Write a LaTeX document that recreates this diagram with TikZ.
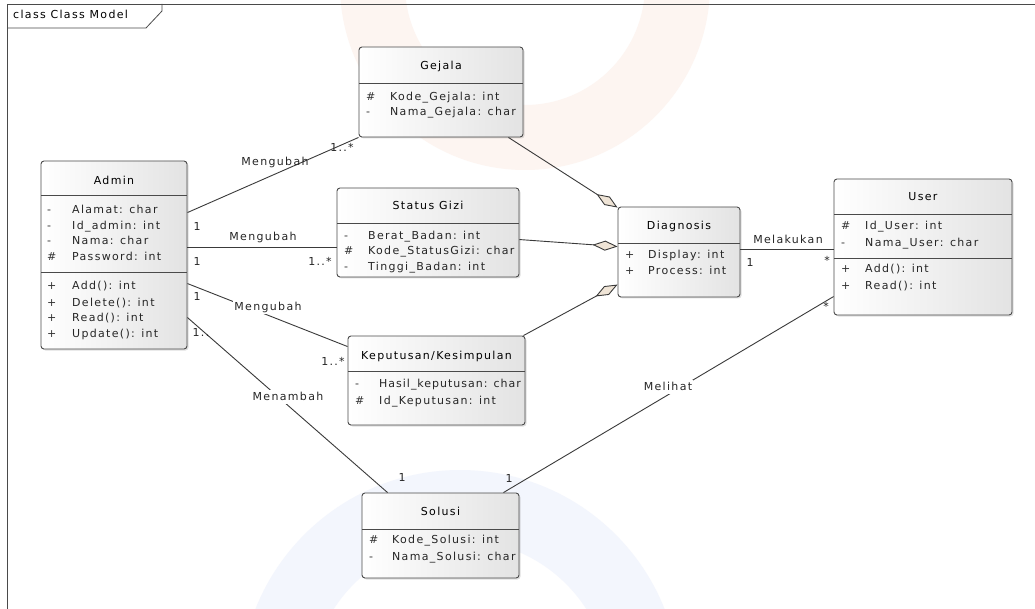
\documentclass[tikz,border=0pt]{standalone}
\usepackage{fontspec}
\newfontfamily\umlfont[LetterSpace=12]{DejaVu Sans}
\usetikzlibrary{arrows.meta,shadows}

\definecolor{lineclr}{HTML}{3A3A3A}
\definecolor{boxedge}{HTML}{4A4A4A}
\definecolor{diamfill}{HTML}{EFE4D6}
\definecolor{wmblue}{HTML}{F3F6FD}
\definecolor{wmpeach}{HTML}{FDF5F1}

\tikzset{
  classbox/.style={draw=boxedge, line width=0.9pt, rounded corners=3pt,
    left color=white, right color=black!11, inner sep=0pt,
    drop shadow={shadow xshift=1.5pt, shadow yshift=-1.5pt, opacity=0.25}},
  sepline/.style={draw=boxedge, line width=0.9pt},
  umltext/.style={font=\umlfont\fontsize{11}{13}\selectfont, inner sep=0pt,
    text height=8pt, text depth=2pt},
  ctitle/.style={umltext, text=black},
  cvis/.style={umltext, anchor=west, text=black!80},
  cattr/.style={umltext, anchor=west, text=black!85},
  assoc/.style={draw=lineclr, line width=0.9pt},
  aggr/.style={assoc, -{Diamond[length=25pt, width=10pt, fill=diamfill, line width=0.9pt]}},
  lbl/.style={umltext, text=black!85},
  cutlbl/.style={lbl, fill=white, inner xsep=1pt, inner ysep=2pt},
}

% one compartment row: visibility mark and member text
\newcommand\clsrow[6]{%
  \node[cvis] (#1v) at (#2,#4) {#5};
  \node[cattr] (#1) at (#3,#4) {#6};}

\begin{document}
\begin{tikzpicture}[x=1pt, y=-1pt]
\useasboundingbox (0,0) rectangle (1035,609);
\fill[white] (0,0) rectangle (1035,609);

% faint background emblem rings
\fill[wmpeach, even odd rule] (525,-15) circle (185) (525,-15) circle (120);
\fill[wmblue, even odd rule] (460,690) circle (220) (460,690) circle (150);

% diagram frame
\draw[boxedge, line width=0.8pt] (7,609) -- (7,4) -- (1035,4);
\draw[boxedge, line width=0.8pt] (7,28) -- (146,28) -- (162,11) -- (162,4);
\node[umltext, anchor=west, text=black] (frametitle) at (13,16) {class Class Model};

% ---------- classes ----------
% Admin
\node[classbox, minimum width=146pt, minimum height=188pt] (admin) at (114,255) {};
\draw[sepline] (41,195) -- (187,195);
\draw[sepline] (41,272) -- (187,272);
\node[ctitle] (adminT) at (114,182) {Admin};
\clsrow{adA1}{47}{72}{211}{-}{Alamat: char}
\clsrow{adA2}{47}{72}{227}{-}{Id\_admin: int}
\clsrow{adA3}{47}{72}{242}{-}{Nama: char}
\clsrow{adA4}{47}{72}{258}{\#}{Password: int}
\clsrow{adO1}{47}{72}{287}{+}{Add(): int}
\clsrow{adO2}{47}{72}{303}{+}{Delete(): int}
\clsrow{adO3}{47}{72}{318}{+}{Read(): int}
\clsrow{adO4}{47}{72}{334}{+}{Update(): int}

% Gejala
\node[classbox, minimum width=164pt, minimum height=90pt] (gejala) at (441,92) {};
\draw[sepline] (359,83) -- (523,83);
\node[ctitle] (gejalaT) at (441,67) {Gejala};
\clsrow{gjA1}{366}{390}{98}{\#}{Kode\_Gejala: int}
\clsrow{gjA2}{366}{390}{113}{-}{Nama\_Gejala: char}

% Status Gizi
\node[classbox, minimum width=182pt, minimum height=89pt] (status) at (428,232.5) {};
\draw[sepline] (337,223) -- (519,223);
\node[ctitle] (statusT) at (428,207) {Status Gizi};
\clsrow{sgA1}{344}{368}{237}{-}{Berat\_Badan: int}
\clsrow{sgA2}{344}{368}{252}{\#}{Kode\_StatusGizi: char}
\clsrow{sgA3}{344}{368}{268}{-}{Tinggi\_Badan: int}

% Keputusan/Kesimpulan
\node[classbox, minimum width=177pt, minimum height=89pt] (keputusan) at (436.5,380.5) {};
\draw[sepline] (348,371) -- (525,371);
\node[ctitle] (keputusanT) at (436.5,356) {Keputusan/Kesimpulan};
\clsrow{kpA1}{355}{379}{384}{-}{\addfontfeature{LetterSpace=9}Hasil\_keputusan: char}
\clsrow{kpA2}{355}{379}{401}{\#}{Id\_Keputusan: int}

% Diagnosis
\node[classbox, minimum width=122pt, minimum height=90pt] (diagnosis) at (679,252) {};
\draw[sepline] (618,243) -- (740,243);
\node[ctitle] (diagnosisT) at (679,227) {Diagnosis};
\clsrow{dgO1}{625}{648}{256}{+}{Display: int}
\clsrow{dgO2}{625}{648}{272}{+}{Process: int}

% User
\node[classbox, minimum width=178pt, minimum height=136pt] (user) at (923,247) {};
\draw[sepline] (834,214) -- (1012,214);
\draw[sepline] (834,258) -- (1012,258);
\node[ctitle] (userT) at (923,198) {User};
\clsrow{usA1}{841}{865}{227}{\#}{Id\_User: int}
\clsrow{usA2}{841}{865}{244}{-}{Nama\_User: char}
\clsrow{usO1}{841}{865}{270}{+}{Add(): int}
\clsrow{usO2}{841}{865}{287}{+}{Read(): int}

% Solusi
\node[classbox, minimum width=157pt, minimum height=85pt] (solusi) at (440.5,535.5) {};
\draw[sepline] (362,529) -- (519,529);
\node[ctitle] (solusiT) at (440.5,512) {Solusi};
\clsrow{slA1}{369}{392}{540}{\#}{Kode\_Solusi: int}
\clsrow{slA2}{369}{392}{557}{-}{Nama\_Solusi: char}

% ---------- associations ----------
\draw[assoc] ([yshift=-52pt]admin.north east) -- (gejala.south west);
\draw[assoc] ([yshift=-87pt]admin.north east) -- ([yshift=-60pt]status.north west);
\draw[assoc] ([yshift=-123pt]admin.north east) -- ([yshift=-11pt]keputusan.north west);
\draw[assoc] ([yshift=-157pt]admin.north east) -- ([xshift=26pt]solusi.north west);
\draw[assoc] ([yshift=-43pt]diagnosis.north east) -- ([yshift=-71pt]user.north west);
\draw[assoc] ([xshift=-16pt]solusi.north east) -- ([yshift=-118pt]user.north west);

% aggregations into Diagnosis
\draw[aggr] ([xshift=-15pt]gejala.south east) -- ([yshift=-1pt]diagnosis.north west);
\draw[aggr] ([yshift=-52pt]status.north east) -- ([yshift=-40pt]diagnosis.north west);
\draw[aggr] ([xshift=-2pt]keputusan.north east) -- ([yshift=-78pt]diagnosis.north west);

% ---------- labels ----------
\node[lbl] (l1) at (275,163) {Mengubah};
\node[lbl] (l1a) at (197,228) {1};
\node[lbl] (l1b) at (342,149) {1..*};

\node[lbl] (l2) at (263,238) {Mengubah};
\node[lbl] (l2a) at (197,263) {1};
\node[lbl] (l2b) at (320,263) {1..*};

\node[cutlbl] (l3) at (268,307) {Mengubah};
\node[lbl] (l3a) at (197,298) {1};
\node[lbl] (l3b) at (333,362) {1..*};

\node[cutlbl] (l4) at (288,397) {Menambah};
\node[lbl] (l4a) at (201,333) {1..};
\node[lbl] (l4b) at (402,478) {1};

\node[lbl] (l5) at (788,241) {Melakukan};
\node[lbl] (l5a) at (750,264) {1};
\node[lbl] (l5b) at (827,262) {*};

\node[cutlbl] (l6) at (668,387) {Melihat};
\node[lbl] (l6a) at (509,479) {1};
\node[lbl] (l6b) at (826,307) {*};
\end{tikzpicture}
\end{document}
